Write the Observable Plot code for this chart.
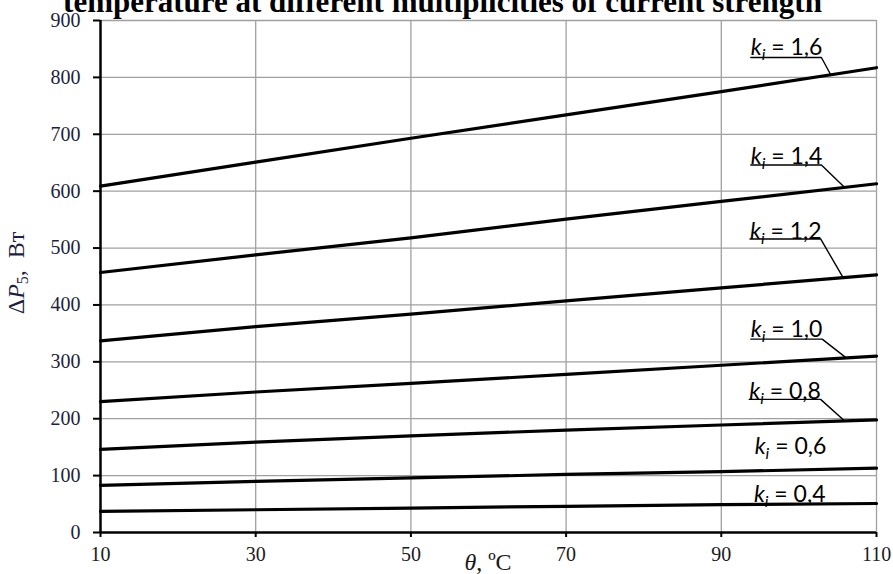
<!DOCTYPE html>
<html>
<head>
<meta charset="utf-8">
<script src="https://cdn.jsdelivr.net/npm/d3@7"></script>
<script src="https://cdn.jsdelivr.net/npm/@observablehq/plot@0.6"></script>
<style>
  html, body { margin: 0; padding: 0; background: white; }
</style>
</head>
<body>
<div id="chart"></div>
<script>
// ---- data ----
const titleText = "temperature at different multiplicities of current strength";
const theta = [10, 30, 50, 70, 90, 110];
const k16 = [609, 651, 693, 734, 775, 817];
const k14 = [457, 488, 518, 551, 582, 613];
const k12 = [337, 362, 384, 407, 430, 453];
const k10 = [230, 247, 262, 278, 294, 310];
const k08 = [146, 159, 170, 180, 189, 198];
const k06 = [83, 90, 96, 102, 107, 113];
const k04 = [37, 40, 43, 46, 49, 51];
const kNames = ["1,6", "1,4", "1,2", "1,0", "0,8", "0,6", "0,4"];
const seriesValues = [k16, k14, k12, k10, k08, k06, k04];
// label placement (data units)
const labelTheta = [93.8, 93.8, 93.7, 93.8, 93.6, 94.3, 94.2];
const labelMid = [853, 661, 529, 356, 248, 151, 67];
const underlineP = [835, 646, 516, 340, 234, null, null];
const underlineEnd = [102.9, 102.9, 102.8, 103.0, 102.8, null, null];
const leaderTheta = [104.1, 105.9, 105.7, 106.1, 105.9, null, null];
const xTicks = [10, 30, 50, 70, 90, 110];
const yTicks = [0, 100, 200, 300, 400, 500, 600, 700, 800, 900];

// ---- tables ----
const rows = kNames.flatMap((k, i) => theta.map((t, j) => ({k, theta: t, p: seriesValues[i][j]})));
const labelRows = kNames.map((k, i) => ({k, x: labelTheta[i], y: labelMid[i]}));
function valueAt(i, t) {
  const v = seriesValues[i];
  const j = Math.min(theta.length - 2, Math.max(0, d3.bisectRight(theta, t) - 1));
  const f = (t - theta[j]) / (theta[j + 1] - theta[j]);
  return v[j] + f * (v[j + 1] - v[j]);
}
const leaderRows = [];
kNames.forEach((k, i) => {
  if (underlineP[i] == null) return;
  leaderRows.push({k, x: labelTheta[i], y: underlineP[i]});
  leaderRows.push({k, x: underlineEnd[i], y: underlineP[i]});
  leaderRows.push({k, x: leaderTheta[i], y: valueAt(i, leaderTheta[i])});
});

const W = 893, H = 574;
const plot = Plot.plot({
  width: W,
  height: H,
  marginLeft: 100,
  marginRight: 17,
  marginTop: 20,
  marginBottom: 42,
  x: {domain: [10, 110]},
  y: {domain: [0, 900]},
  style: {background: "white", fontFamily: "'Liberation Serif', serif", overflow: "visible"},
  marks: [
    Plot.gridX(xTicks.slice(1), {stroke: "#a0a0a0", strokeOpacity: 1, strokeWidth: 1.3}),
    Plot.gridY(yTicks.slice(1), {stroke: "#a0a0a0", strokeOpacity: 1, strokeWidth: 1.3}),
    Plot.axisX(xTicks, {tickSize: 5, tickPadding: 9, fontSize: 20, label: null, strokeWidth: 2, stroke: "black", fill: "#1a1a1a"}),
    Plot.axisY(yTicks, {tickSize: 7, tickPadding: 13, fontSize: 20, label: null, strokeWidth: 2, stroke: "black", fill: "#1e1e40"}),
    Plot.ruleX([10], {stroke: "black", strokeWidth: 2.5}),
    Plot.ruleY([0], {stroke: "black", strokeWidth: 2.5}),
    Plot.line(rows, {x: "theta", y: "p", z: "k", stroke: "black", strokeWidth: 3.2}),
    Plot.line(leaderRows, {x: "x", y: "y", z: "k", stroke: "black", strokeWidth: 1.4}),
    Plot.text(labelRows, {x: "x", y: "y", text: "k", textAnchor: "start", fontSize: 23,
      fontFamily: "Lato, 'Open Sans', sans-serif", fill: "black", ariaDescription: "ki-labels"})
  ]
});
document.getElementById("chart").appendChild(plot);

const svg = d3.select(plot);
const sx = d3.scaleLinear(plot.scale("x").domain, plot.scale("x").range);
const sy = d3.scaleLinear(plot.scale("y").domain, plot.scale("y").range);

// rich text for the k_i labels
let labelNodes = svg.selectAll('g[aria-description="ki-labels"] text');
if (labelNodes.empty()) labelNodes = svg.selectAll('g[aria-label="text"] text');
labelNodes.each(function() {
  const t = d3.select(this);
  const val = this.textContent;
  t.text(null);
  t.append("tspan").attr("font-style", "italic").text("k");
  t.append("tspan").attr("font-style", "italic").attr("font-size", 16).attr("dy", 5).text("i");
  t.append("tspan").attr("dy", -5).attr("style", "white-space:pre").text(" = " + val);
});

// title (cut at the top, as in the reference)
svg.append("text")
  .attr("x", W / 2 - 4)
  .attr("y", 12)
  .attr("text-anchor", "middle")
  .attr("font-family", "'Liberation Serif', serif")
  .attr("font-weight", "bold")
  .attr("font-size", 31)
  .attr("fill", "black")
  .text(titleText);

// x axis title
const xt = svg.append("text")
  .attr("x", sx(60))
  .attr("y", 570)
  .attr("text-anchor", "middle")
  .attr("font-family", "'Liberation Serif', serif")
  .attr("font-size", 24)
  .attr("fill", "#1a1a1a");
xt.append("tspan").attr("font-style", "italic").text("θ");
xt.append("tspan").text(", ºC");

// y axis title
const yt = svg.append("text")
  .attr("transform", `translate(24,${(sy(0) + sy(900)) / 2 - 3}) rotate(-90)`)
  .attr("text-anchor", "middle")
  .attr("font-family", "'Liberation Serif', serif")
  .attr("font-size", 24)
  .attr("fill", "#1e1e40");
yt.append("tspan").text("Δ");
yt.append("tspan").attr("font-style", "italic").text("P");
yt.append("tspan").attr("font-size", 16).attr("dy", 4).text("5");
yt.append("tspan").attr("dy", -4).attr("style", "white-space:pre").text(",  Вт");
</script>
</body>
</html>
